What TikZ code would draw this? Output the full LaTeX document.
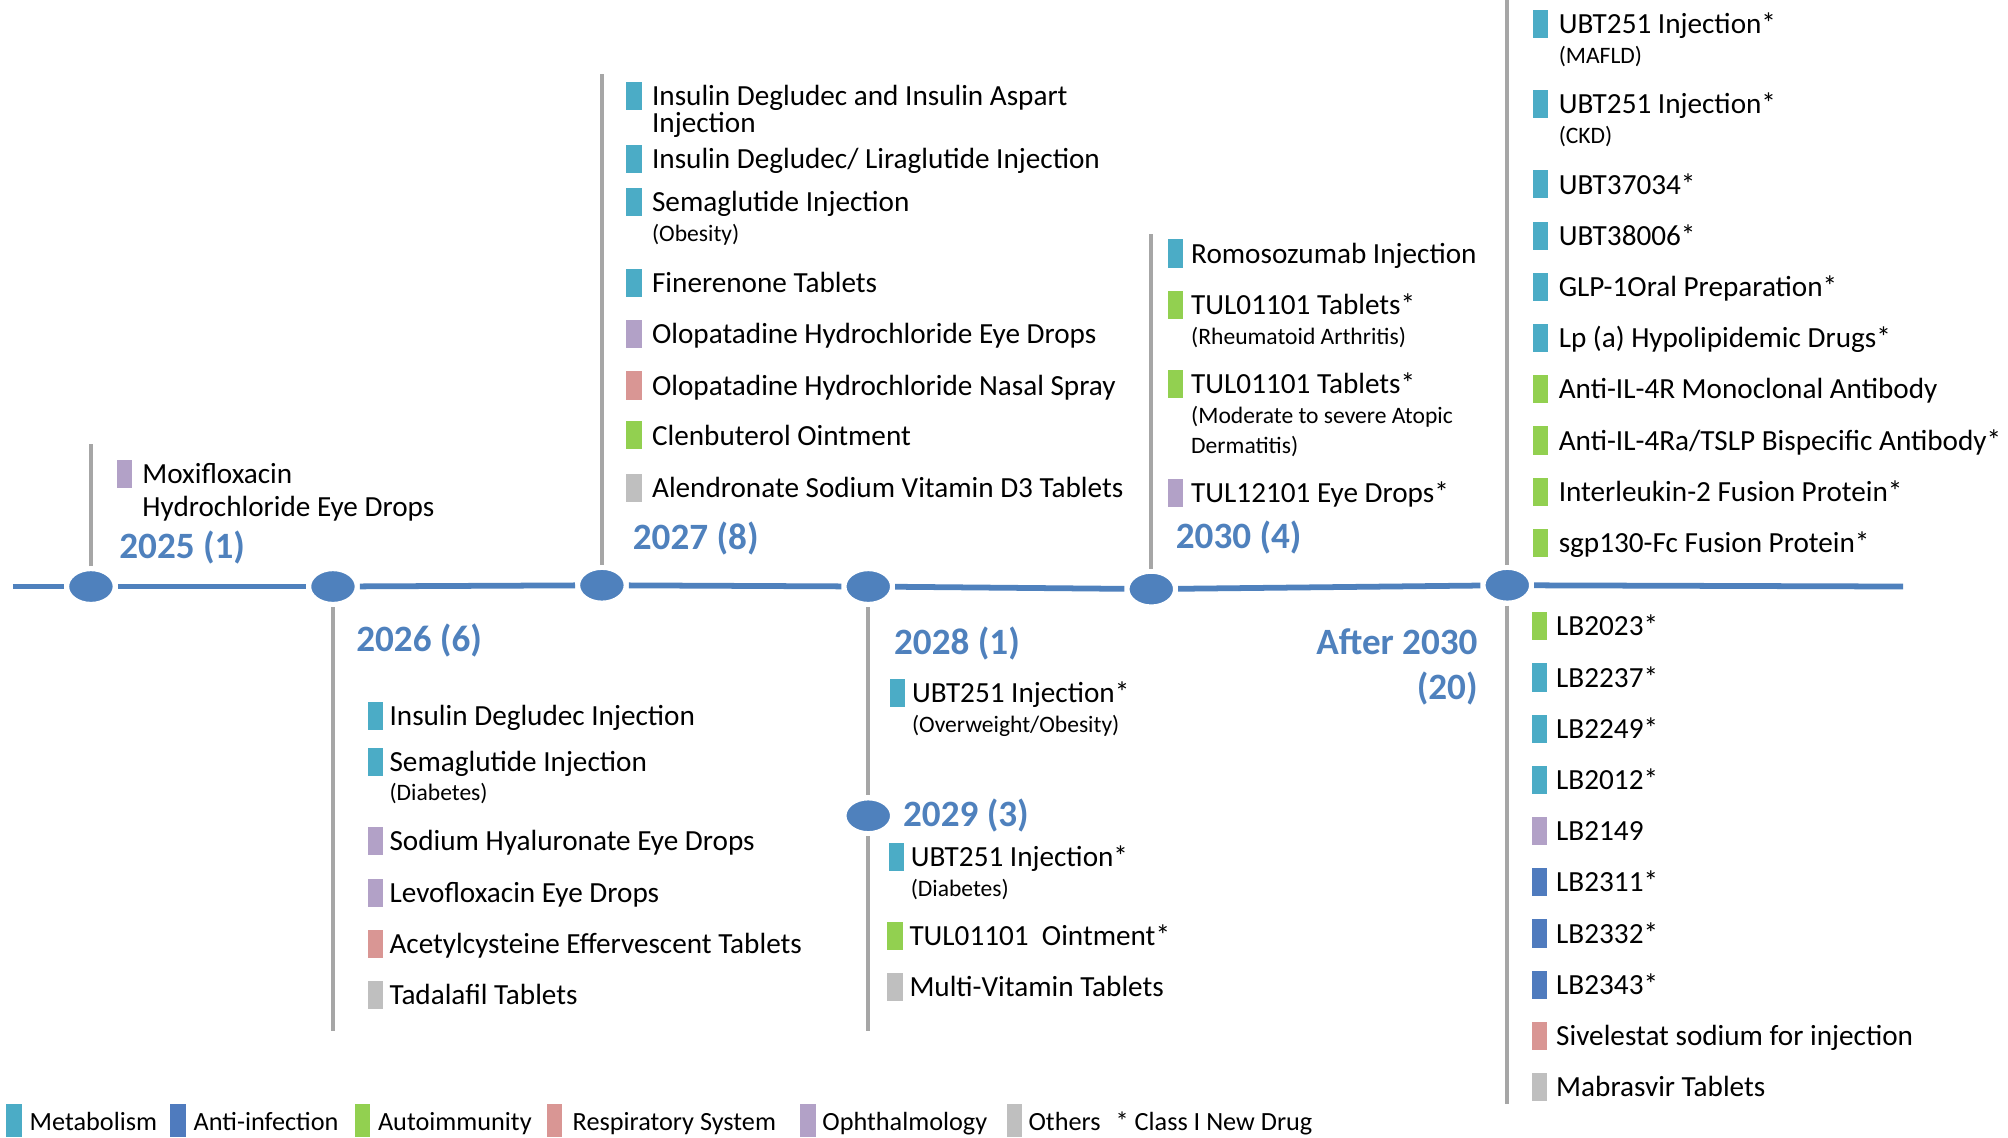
\documentclass[tikz,border=0pt]{standalone}
\usepackage{fontspec}
\setmainfont{Carlito}
\usetikzlibrary{shapes.geometric}
\definecolor{cMet}{HTML}{4BACC6}
\definecolor{cInf}{HTML}{4F7BBE}
\definecolor{cAut}{HTML}{92D050}
\definecolor{cRes}{HTML}{D99694}
\definecolor{cOph}{HTML}{B2A1C7}
\definecolor{cOth}{HTML}{BFBFBF}
\definecolor{cYear}{HTML}{4F81BD}
\definecolor{cVline}{HTML}{A6A6A6}
\newcommand\fItem{\fontsize{22.8pt}{27pt}\selectfont}
\newcommand\fSmall{\fontsize{18.4pt}{22pt}\selectfont}
\newcommand\fYear{\fontsize{29pt}{35pt}\selectfont\bfseries}
\newcommand\fLeg{\fontsize{20.5pt}{24pt}\selectfont}
% name, square x, text x, centre y, colour, text
\newcommand\drugitem[6]{%
  \node[sqbox, fill=#5, anchor=west] (#1s) at (#2,#4) {};
  \node[itemtxt] (#1) at ({#3},{#4+7.5}) {#6};}
% name, text x, centre y, text
\newcommand\subline[4]{\node[smalltxt] (#1) at ({#2},{#3+5.9}) {#4};}
\newcommand\contline[4]{\node[itemtxt] (#1) at ({#2},{#3+7.5}) {#4};}
% name, square x, text x, colour, text
\newcommand\legitem[5]{%
  \node[sqbox, minimum height=26pt, fill=#4, anchor=north west] (#1s) at (#2,862) {};
  \node[legtxt] (#1) at (#3,883) {#5};}
\begin{document}
\begin{tikzpicture}[x=1pt,y=-1pt,
  sqbox/.style={minimum width=12pt, minimum height=22pt, inner sep=0pt, outer sep=0pt, draw=none},
  itemtxt/.style={anchor=base west, inner sep=0pt, font=\fItem},
  smalltxt/.style={anchor=base west, inner sep=0pt, font=\fSmall},
  legtxt/.style={anchor=base west, inner sep=0pt, font=\fLeg},
  yeartxt/.style={anchor=base west, inner sep=0pt, font=\fYear, text=cYear},
  yeartxtr/.style={anchor=base east, inner sep=0pt, font=\fYear, text=cYear},
  dot/.style={ellipse, fill=cYear, draw=white, line width=8pt, minimum width=42pt, minimum height=32pt, inner sep=0pt, outer sep=0pt},
  tl/.style={draw=cYear, line width=4.5pt},
  vl/.style={draw=cVline, line width=3pt}]
\clip (0,0) rectangle (1568,888);
\fill[white] (0,0) rectangle (1568,888);

% dots
\node[dot] (d2025) at (71,458) {};
\node[dot] (d2026) at (260,458) {};
\node[dot] (d2027) at (470,457) {};
\node[dot] (d2028) at (678,458) {};
\node[dot] (d2030) at (899,460) {};
\node[dot] (dafter) at (1177,457) {};
\node[dot] (d2029) at (678,637) {};

\coordinate (tlstart) at (10,458);
\coordinate (tlend) at (1486,458);
\coordinate (v2025) at (71,347);
\coordinate (v2026) at (260,805);
\coordinate (v2027) at (470,58);
\coordinate (v2028) at (678,805);
\coordinate (v2030) at (899,183);
\coordinate (vafterA) at (1177,0);
\coordinate (vafterB) at (1177,862);

% timeline
\draw[tl] (tlstart) -- (d2025);
\draw[tl] (d2025) -- (d2026);
\draw[tl] (d2026) -- (d2027);
\draw[tl] (d2027) -- (d2028);
\draw[tl] (d2028) -- (d2030);
\draw[tl] (d2030) -- (dafter);
\draw[tl] (dafter) -- (tlend);

% vertical lines
\draw[vl] (d2025) -- (v2025);
\draw[vl] (d2026) -- (v2026);
\draw[vl] (d2027) -- (v2027);
\draw[vl] (d2028) -- (d2029);
\draw[vl] (d2029) -- (v2028);
\draw[vl] (d2030) -- (v2030);
\draw[vl] (dafter) -- (vafterA);
\draw[vl] (dafter) -- (vafterB);

% year labels
\node[yeartxt] (y2025) at (93,436) {2025 (1)};
\node[yeartxt] (y2026) at (278,509) {2026 (6)};
\node[yeartxt] (y2027) at (494,429) {2027 (8)};
\node[yeartxt] (y2028) at (698,511) {2028 (1)};
\node[yeartxt] (y2029) at (705,645) {2029 (3)};
\node[yeartxt] (y2030) at (918,428) {2030 (4)};
\node[yeartxtr] (yafterA) at (1154,511) {After 2030};
\node[yeartxtr] (yafterB) at (1154,546) {(20)};

% 2025
\drugitem{m1}{91}{111}{370}{cOph}{Moxifloxacin}
\contline{m1b}{111}{396}{Hydrochloride Eye Drops}

% 2026
\drugitem{a1}{287}{304}{559}{cMet}{Insulin Degludec Injection}
\drugitem{a2}{287}{304}{595}{cMet}{Semaglutide Injection}
\subline{a2b}{304}{619}{(Diabetes)}
\drugitem{a3}{287}{304}{657}{cOph}{Sodium Hyaluronate Eye Drops}
\drugitem{a4}{287}{304}{697}{cOph}{Levofloxacin Eye Drops}
\drugitem{a5}{287}{304}{737}{cRes}{Acetylcysteine Effervescent Tablets}
\drugitem{a6}{287}{304}{777}{cOth}{Tadalafil Tablets}

% 2027
\drugitem{b1}{489}{509}{75}{cMet}{Insulin Degludec and Insulin Aspart}
\contline{b1b}{509}{96}{Injection}
\drugitem{b2}{489}{509}{124}{cMet}{Insulin Degludec/ Liraglutide Injection}
\drugitem{b3}{489}{509}{158}{cMet}{Semaglutide Injection}
\subline{b3b}{509}{183}{(Obesity)}
\drugitem{b4}{489}{509}{221}{cMet}{Finerenone Tablets}
\drugitem{b5}{489}{509}{261}{cOph}{Olopatadine Hydrochloride Eye Drops}
\drugitem{b6}{489}{509}{301}{cRes}{Olopatadine Hydrochloride Nasal Spray}
\drugitem{b7}{489}{509}{340}{cAut}{Clenbuterol Ointment}
\drugitem{b8}{489}{509}{381}{cOth}{Alendronate Sodium Vitamin D3 Tablets}

% 2028 / 2029
\drugitem{c1}{695}{712}{541}{cMet}{UBT251 Injection*}
\subline{c1b}{712}{566}{(Overweight/Obesity)}
\drugitem{c2}{694}{711}{669}{cMet}{UBT251 Injection*}
\subline{c2b}{711}{694}{(Diabetes)}
\drugitem{c3}{693}{710}{731}{cAut}{TUL01101\ \ Ointment*}
\drugitem{c4}{693}{710}{771}{cOth}{Multi-Vitamin Tablets}

% 2030
\drugitem{e1}{912}{930}{198}{cMet}{Romosozumab Injection}
\drugitem{e2}{912}{930}{238}{cAut}{TUL01101 Tablets*}
\subline{e2b}{930}{263}{(Rheumatoid Arthritis)}
\drugitem{e3}{912}{930}{300}{cAut}{TUL01101 Tablets*}
\subline{e3b}{930}{325}{(Moderate to severe Atopic}
\subline{e3c}{930}{348}{Dermatitis)}
\drugitem{e4}{912}{930}{385}{cOph}{TUL12101 Eye Drops*}

% after 2030, upper
\drugitem{f1}{1197}{1217}{19}{cMet}{UBT251 Injection*}
\subline{f1b}{1217}{44}{(MAFLD)}
\drugitem{f2}{1197}{1217}{81}{cMet}{UBT251 Injection*}
\subline{f2b}{1217}{106}{(CKD)}
\drugitem{f3}{1197}{1217}{144}{cMet}{UBT37034*}
\drugitem{f4}{1197}{1217}{184}{cMet}{UBT38006*}
\drugitem{f5}{1197}{1217}{224}{cMet}{GLP-1Oral Preparation*}
\drugitem{f6}{1197}{1217}{264}{cMet}{Lp (a) Hypolipidemic Drugs*}
\drugitem{f7}{1197}{1217}{304}{cAut}{Anti-IL-4R Monoclonal Antibody}
\drugitem{f8}{1197}{1217}{344}{cAut}{Anti-IL-4Ra/TSLP Bispecific Antibody*}
\drugitem{f9}{1197}{1217}{384}{cAut}{Interleukin-2 Fusion Protein*}
\drugitem{f10}{1197}{1217}{424}{cAut}{sgp130-Fc Fusion Protein*}

% after 2030, lower
\drugitem{g1}{1196}{1215}{489}{cAut}{LB2023*}
\drugitem{g2}{1196}{1215}{529}{cMet}{LB2237*}
\drugitem{g3}{1196}{1215}{569}{cMet}{LB2249*}
\drugitem{g4}{1196}{1215}{609}{cMet}{LB2012*}
\drugitem{g5}{1196}{1215}{649}{cOph}{LB2149}
\drugitem{g6}{1196}{1215}{689}{cInf}{LB2311*}
\drugitem{g7}{1196}{1215}{729}{cInf}{LB2332*}
\drugitem{g8}{1196}{1215}{769}{cInf}{LB2343*}
\drugitem{g9}{1196}{1215}{809}{cRes}{Sivelestat sodium for injection}
\drugitem{g10}{1196}{1215}{849}{cOth}{Mabrasvir Tablets}

% legend
\legitem{l1}{5}{23}{cMet}{Metabolism}
\legitem{l2}{133}{151}{cInf}{Anti-infection}
\legitem{l3}{277}{295}{cAut}{Autoimmunity}
\legitem{l4}{427}{447}{cRes}{Respiratory System}
\legitem{l5}{625}{642}{cOph}{Ophthalmology}
\legitem{l6}{786}{803}{cOth}{Others}
\node[legtxt] (l7) at (871,883) {* Class I New Drug};
\end{tikzpicture}
\end{document}
